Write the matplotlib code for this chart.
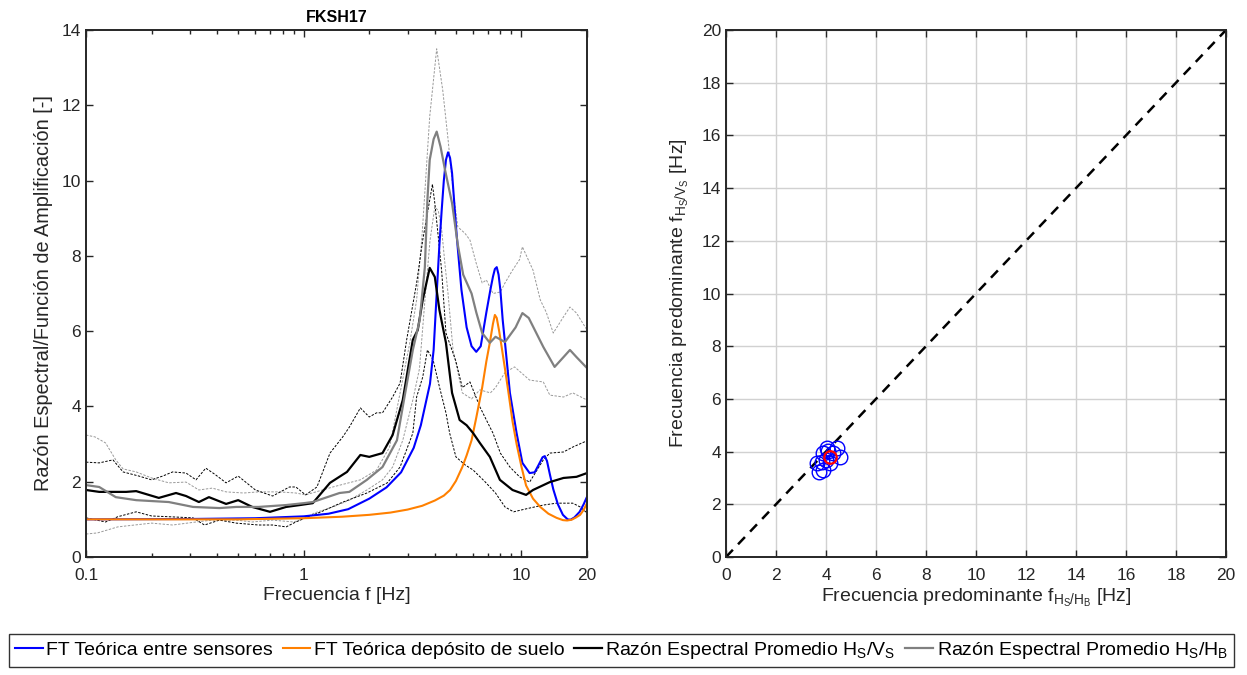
import numpy as np
import matplotlib
matplotlib.use('Agg')
import matplotlib.pyplot as plt
from matplotlib.ticker import FixedLocator, NullFormatter

plt.rcParams['font.family'] = ['Liberation Sans', 'DejaVu Sans']
plt.rcParams['mathtext.fontset'] = 'custom'
plt.rcParams['mathtext.rm'] = 'Liberation Sans'

# FT teorica entre sensores (blue)
f_blue = [0.1, 0.3, 0.6, 1.0, 1.3, 1.6, 2.0, 2.4, 2.8, 3.2, 3.45, 3.8, 3.95, 4.08, 4.2, 4.3, 4.4, 4.5,
          4.6, 4.7, 4.8, 4.9, 5.0, 5.1, 5.3, 5.6, 5.9, 6.2, 6.5, 6.9, 7.2, 7.4, 7.55, 7.7, 7.85, 8.0,
          8.2, 8.4, 8.85, 9.5, 10.1, 10.9, 11.5, 12.0, 12.5, 12.8, 13.1, 13.5, 14.0, 14.7, 15.5, 16.3,
          16.8, 17.5, 18.5, 19.3, 20]
a_blue = [1.0, 1.01, 1.03, 1.08, 1.15, 1.27, 1.55, 1.85, 2.25, 2.9, 3.5, 4.6, 5.5, 7.0, 8.3, 9.2, 10.0, 10.55,
          10.75, 10.6, 10.2, 9.5, 8.8, 8.2, 7.1, 6.1, 5.6, 5.45, 5.6, 6.5, 7.1, 7.45, 7.65, 7.7, 7.5, 7.1,
          6.3, 5.7, 4.36, 3.29, 2.5, 2.23, 2.25, 2.45, 2.65, 2.68, 2.55, 2.2, 1.8, 1.4, 1.12, 1.0,
          0.99, 1.05, 1.2, 1.4, 1.6]

# FT teorica deposito de suelo (orange)
f_orange = [0.1, 0.5, 1.0, 1.5, 2.0, 2.5, 3.0, 3.5, 4.0, 4.4, 4.7, 5.0, 5.35, 5.6, 5.9, 6.2, 6.6, 6.9,
            7.16, 7.4, 7.55, 7.7, 7.9, 8.1, 8.4, 8.7, 9.1, 9.5, 10.0, 10.5, 11.3, 12.2, 13.3, 14.5,
            15.5, 16.2, 17.0, 17.8, 18.6, 19.3, 20]
a_orange = [1.0, 1.0, 1.03, 1.07, 1.12, 1.18, 1.26, 1.36, 1.5, 1.63, 1.78, 2.02, 2.39, 2.7, 3.1, 3.7, 4.5, 5.2,
            5.7, 6.2, 6.43, 6.35, 6.0, 5.6, 5.0, 4.4, 3.6, 3.0, 2.4, 1.9, 1.55, 1.33, 1.15, 1.04,
            0.98, 0.97, 0.99, 1.05, 1.12, 1.25, 1.43]

# Razon espectral promedio Hs/Vs (black) and +/- bands
f_hv = [0.1, 0.115, 0.153, 0.17, 0.216, 0.259, 0.288, 0.33, 0.367, 0.44, 0.5, 0.58, 0.7, 0.83, 0.96, 1.1,
        1.32, 1.58, 1.82, 2.0, 2.3, 2.56, 2.85, 3.17, 3.34, 3.52, 3.79, 4.0, 4.2, 4.5, 4.8, 5.2, 5.6,
        6.0, 6.44, 7.16, 7.96, 9.1, 10.5, 11.3, 13.5, 15.6, 17.9, 20]
a_hv = [1.78, 1.73, 1.73, 1.75, 1.57, 1.7, 1.62, 1.46, 1.59, 1.41, 1.51, 1.33, 1.2, 1.33, 1.38, 1.43,
        1.97, 2.26, 2.71, 2.66, 2.76, 3.24, 4.17, 5.77, 6.03, 6.83, 7.68, 7.44, 6.56, 5.69, 4.36, 3.64, 3.5,
        3.29, 3.03, 2.66, 2.05, 1.78, 1.65, 1.78, 1.99, 2.1, 2.13, 2.23]

f_hv_up = [0.1, 0.115, 0.133, 0.148, 0.175, 0.2, 0.225, 0.25, 0.288, 0.32, 0.355, 0.39, 0.44, 0.5, 0.6,
           0.72, 0.86, 0.92, 1.02, 1.15, 1.32, 1.51, 1.62, 1.82, 2.0, 2.16, 2.3, 2.56, 2.77, 2.97, 3.3,
           3.52, 3.79, 3.9, 4.0, 4.15, 4.3, 4.5, 5.0, 5.35, 5.8, 6.44, 6.9, 7.4, 8.0, 8.85, 9.8, 10.9,
           12.6, 13.5, 15.6, 17.2, 19.5, 20]
a_hv_up = [2.52, 2.5, 2.58, 2.26, 2.15, 2.05, 2.15, 2.26, 2.23, 2.05, 2.36, 2.2, 1.97, 2.15, 1.78,
           1.62, 1.86, 1.86, 1.65, 1.86, 2.76, 3.19, 3.45, 3.96, 3.72, 3.83, 3.83, 4.25, 4.62, 5.77, 7.28,
           8.42, 9.48, 9.9, 9.4, 8.5, 7.6, 5.95, 5.2, 4.5, 4.65, 3.99, 3.64, 3.29, 2.76, 2.39, 2.13, 1.99,
           2.58, 2.76, 2.79, 2.92, 3.06, 3.08]

f_hv_lo = [0.1, 0.123, 0.14, 0.17, 0.2, 0.24, 0.31, 0.35, 0.41, 0.49, 0.62, 0.72, 0.83, 0.92, 1.02, 1.2,
           1.5, 1.95, 2.42, 2.77, 3.17, 3.3, 3.52, 3.7, 3.93, 4.2, 4.5, 4.68, 5.0, 5.5, 6.0, 6.8, 7.6,
           8.4, 9.2, 10.0, 10.9, 12.6, 14.5, 17.2, 18.6, 20]
a_hv_lo = [1.04, 0.93, 1.07, 1.2, 1.09, 1.07, 1.04, 0.85, 0.98, 0.9, 0.85, 0.85, 0.8, 0.93, 1.04, 1.2,
           1.45, 1.7, 1.97, 2.39, 3.29, 4.25, 4.78, 5.5, 5.23, 4.52, 3.83, 3.29, 2.66, 2.45, 2.31, 2.0, 1.7,
           1.33, 1.2, 1.25, 1.3, 1.38, 1.43, 1.43, 1.33, 1.17]

# Razon espectral promedio Hs/Hb (gray) and +/- bands
f_hh = [0.1, 0.115, 0.137, 0.17, 0.24, 0.31, 0.41, 0.49, 0.62, 0.83, 1.0, 1.1, 1.46, 1.62, 1.95, 2.3,
        2.68, 2.85, 3.17, 3.41, 3.6, 3.7, 3.79, 3.95, 4.08, 4.25, 4.45, 4.8, 5.1, 5.4, 5.9, 6.2, 6.6, 7.16,
        7.6, 8.4, 9.4, 10.1, 10.8, 11.7, 12.6, 14.2, 15.6, 16.7, 17.9, 20]
a_hh = [1.91, 1.86, 1.59, 1.51, 1.46, 1.33, 1.3, 1.33, 1.33, 1.38, 1.43, 1.46, 1.7, 1.73, 2.05, 2.39,
        3.1, 3.99, 5.5, 6.3, 7.7, 9.5, 10.55, 11.1, 11.3, 10.9, 10.3, 9.4, 8.3, 7.5, 7.0, 6.5, 5.95, 5.69,
        5.85, 5.71, 6.1, 6.48, 6.35, 5.95, 5.58, 5.05, 5.31, 5.5, 5.31, 5.02]

f_hh_up = [0.1, 0.11, 0.123, 0.137, 0.148, 0.17, 0.2, 0.24, 0.288, 0.33, 0.38, 0.44, 0.53, 0.62, 0.77,
           0.92, 1.02, 1.36, 1.82, 2.16, 2.48, 2.77, 3.07, 3.3, 3.5, 3.79, 4.08, 4.35, 4.6, 4.85, 5.1, 5.5,
           5.8, 6.2, 6.6, 6.9, 7.4, 8.0, 8.4, 9.1, 9.8, 10.1, 11.3, 12.2, 13.0, 14.0, 15.6, 16.7, 17.9, 20]
a_hh_up = [3.24, 3.19, 3.03, 2.58, 2.34, 2.26, 2.1, 1.97, 1.99, 1.78, 1.83, 1.73, 1.7, 1.73, 1.73,
           1.7, 1.65, 1.86, 2.05, 2.31, 2.92, 4.36, 5.69, 6.83, 8.6, 11.7, 13.5, 12.4, 11.1, 9.75, 8.77, 8.6,
           8.42, 7.8, 7.28, 7.36, 7.0, 7.04, 7.28, 7.62, 7.9, 8.24, 7.62, 6.83, 6.5, 5.95, 6.38, 6.64, 6.48, 6.03]

f_hh_lo = [0.1, 0.113, 0.14, 0.2, 0.25, 0.32, 0.38, 0.49, 0.58, 0.72, 0.9, 1.02, 1.12, 1.36, 1.62, 1.95,
           2.3, 2.56, 2.85, 3.17, 3.4, 3.6, 3.8, 4.0, 4.15, 4.3, 4.45, 4.6, 4.85, 5.35, 5.9, 6.44, 7.2,
           7.6, 8.4, 9.3, 10.9, 12.6, 13.5, 15.6, 17.2, 20]
a_hh_lo = [0.61, 0.64, 0.8, 0.9, 0.85, 0.93, 0.98, 0.98, 0.93, 0.98, 0.93, 1.04, 1.17, 1.33, 1.51, 1.78,
           2.05, 2.39, 3.1, 4.17, 5.0, 6.8, 8.4, 9.3, 9.2, 8.7, 7.8, 7.0, 5.5, 4.36, 4.2, 4.44, 4.36,
           4.5, 4.9, 5.05, 4.7, 4.65, 4.3, 4.25, 4.36, 4.17]

# predominant frequencies (right panel)
f_hb_pts = [4.08, 4.28, 3.88, 4.56, 3.84, 3.64, 4.16, 3.88, 3.72, 4.44, 4.04, 4.0]
f_vs_pts = [4.02, 3.95, 3.95, 3.8, 3.6, 3.57, 3.57, 3.3, 3.23, 4.14, 4.14, 3.7]
f_hb_mean = [4.16]
f_vs_mean = [3.8]

axcol = (0.15, 0.15, 0.15)

fig = plt.figure(figsize=(12.47, 6.75), dpi=100)
ax1 = fig.add_axes([86 / 1247, 118 / 675, 501 / 1247, 527 / 675])
ax2 = fig.add_axes([726 / 1247, 118 / 675, 500 / 1247, 527 / 675])

# left panel
dash = (0, (2.5, 1.5))
ax1.plot(f_hh_up, a_hh_up, color=(0.6, 0.6, 0.6), lw=0.7, ls=dash)
ax1.plot(f_hh_lo, a_hh_lo, color=(0.6, 0.6, 0.6), lw=0.7, ls=dash)
ax1.plot(f_hv_up, a_hv_up, color='black', lw=0.7, ls=dash)
ax1.plot(f_hv_lo, a_hv_lo, color='black', lw=0.7, ls=dash)
l1, = ax1.plot(f_blue, a_blue, color='#0000FF', lw=1.5)
l2, = ax1.plot(f_orange, a_orange, color='#FF8000', lw=1.5)
l3, = ax1.plot(f_hv, a_hv, color='black', lw=1.6)
l4, = ax1.plot(f_hh, a_hh, color=(0.5, 0.5, 0.5), lw=1.6)

ax1.set_xscale('log')
ax1.set_xlim(0.1, 20)
ax1.set_ylim(0, 14)
ax1.set_xticks([0.1, 1, 10, 20])
ax1.set_xticklabels(['0.1', '1', '10', '20'])
ax1.xaxis.set_minor_locator(FixedLocator([0.2, 0.3, 0.4, 0.5, 0.6, 0.7, 0.8, 0.9,
                                          2, 3, 4, 5, 6, 7, 8, 9]))
ax1.xaxis.set_minor_formatter(NullFormatter())
ax1.set_yticks(range(0, 15, 2))
ax1.set_xlabel('Frecuencia f [Hz]', fontsize=14, color=axcol, labelpad=3)
ax1.set_ylabel('Razón Espectral/Función de Amplificación [-]', fontsize=14.3, color=axcol, labelpad=6)
ax1.set_title('FKSH17', fontsize=11.5, fontweight='bold', pad=6)

# right panel
ax2.plot([0, 20], [0, 20], color='black', lw=1.8, ls=(0, (4, 3)))
ax2.plot(f_hb_pts, f_vs_pts, 'o', mfc='none', mec='#0000FF', ms=10.5, mew=1.0)
ax2.plot(f_hb_mean, f_vs_mean, 'o', mfc='none', mec='red', ms=9, mew=1.6)
ax2.set_xlim(0, 20)
ax2.set_ylim(0, 20)
ax2.set_xticks(range(0, 21, 2))
ax2.set_yticks(range(0, 21, 2))
ax2.grid(True, color=(0.82, 0.82, 0.82), lw=1)
ax2.set_axisbelow(True)
ax2.set_xlabel(r'Frecuencia predominante $\mathregular{f_{H_S/H_B}}$ [Hz]', fontsize=14, color=axcol,
               labelpad=3)
ax2.set_ylabel(r'Frecuencia predominante $\mathregular{f_{H_S/V_S}}$ [Hz]', fontsize=14, color=axcol,
               labelpad=8)

for ax in (ax1, ax2):
    ax.tick_params(which='both', direction='in', top=True, right=True, colors=axcol,
                   labelsize=12.5, width=1)
    ax.tick_params(axis='x', which='major', pad=8)
    ax.tick_params(which='major', length=5)
    ax.tick_params(which='minor', length=3)
    for s in ax.spines.values():
        s.set_linewidth(1.4)
        s.set_color(axcol)

labels = ['FT Teórica entre sensores', 'FT Teórica depósito de suelo',
          r'Razón Espectral Promedio H$_\mathregular{S}$/V$_\mathregular{S}$',
          r'Razón Espectral Promedio H$_\mathregular{S}$/H$_\mathregular{B}$']
leg = fig.legend([l1, l2, l3, l4], labels, loc='center', bbox_to_anchor=(0.4985, 0.0365), ncol=4,
                 prop={'family': ['Liberation Sans'], 'size': 14},
                 handlelength=1.4, handletextpad=0.2, columnspacing=0.5, borderpad=0.3,
                 fancybox=False, edgecolor='black')
leg.get_frame().set_linewidth(1)

fig.savefig('out.png', dpi=100)
